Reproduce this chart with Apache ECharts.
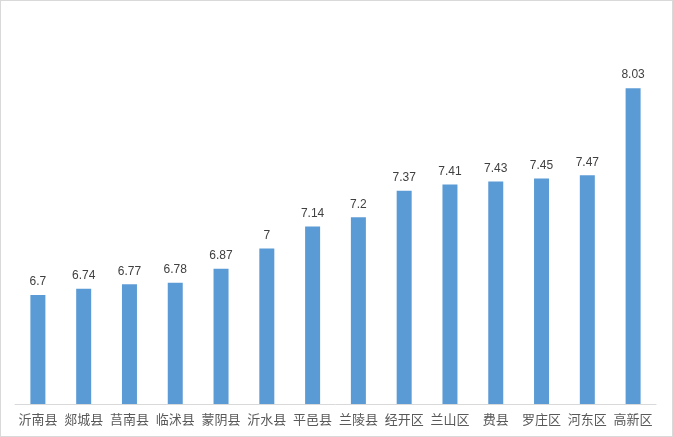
<!DOCTYPE html>
<html><head><meta charset="utf-8">
<script src="https://cdn.jsdelivr.net/npm/echarts@6/dist/echarts.min.js"></script>
<style>
html,body{margin:0;padding:0;background:#fff;}
#c{position:absolute;left:0;top:0;width:671px;height:435px;border:1px solid #d9d9d9;}
</style></head><body>
<div id="c"></div>
<script>
var categories = ['沂南县','郯城县','莒南县','临沭县','蒙阴县','沂水县','平邑县','兰陵县','经开区','兰山区','费县','罗庄区','河东区','高新区'];
var values = [6.7, 6.74, 6.77, 6.78, 6.87, 7, 7.14, 7.2, 7.37, 7.41, 7.43, 7.45, 7.47, 8.03];
var chart = echarts.init(document.getElementById('c'));
chart.setOption({
  animation: false,
  grid: {left: 14, right: 16, top: 14, bottom: 32},
  xAxis: {
    type: 'category', data: categories,
    axisLine: {lineStyle: {color: '#d9d9d9', width: 1}},
    axisTick: {show: false},
    axisLabel: {color: '#595959', fontSize: 13, margin: 9, interval: 0, fontFamily: 'Noto Sans CJK SC'}
  },
  yAxis: {type: 'value', min: 6, max: 8.5, show: false, splitLine: {show: false}},
  series: [{
    type: 'bar', data: values, barWidth: 15,
    itemStyle: {color: '#5b9bd5'},
    label: {show: true, position: 'top', distance: 7, color: '#404040', fontSize: 12, fontFamily: 'Liberation Sans'}
  }]
});
</script>
</body></html>
